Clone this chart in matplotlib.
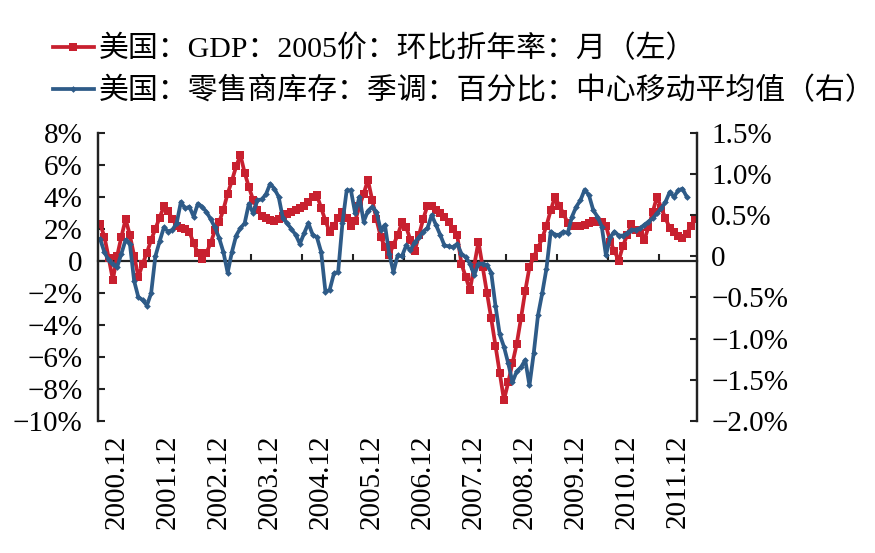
import matplotlib
matplotlib.use("Agg")
import matplotlib.pyplot as plt

plt.rcParams['font.family'] = ['Liberation Serif', 'Noto Sans CJK SC']
plt.rcParams['axes.unicode_minus'] = True

# monthly series, 2000.08 - 2012.04
gdp = [2.3, 1.5, 0.2, -1.2, 0.3, 1.5, 2.6, 1.6, 0.3, -1.0, -0.2, 0.5,
       1.3, 2.0, 2.7, 3.4, 3.1, 2.6, 2.2, 2.05, 2.0, 1.8, 1.1, 0.5,
       0.1, 0.5, 1.1, 1.9, 2.4, 3.2, 4.2, 5.0, 5.9, 6.6, 5.5, 4.6,
       3.8, 3.2, 2.8, 2.65, 2.55, 2.5, 2.6, 2.8, 2.9, 3.05, 3.15, 3.3,
       3.45, 3.7, 4.0, 4.1, 3.3, 2.5, 1.8, 2.2, 2.7, 3.05, 2.7, 2.2,
       2.5, 3.4, 4.2, 5.05, 3.8, 2.6, 1.5, 0.85, 0.35, 1.0, 1.6, 2.4,
       2.1, 1.3, 0.6, 1.6, 2.6, 3.45, 3.4, 3.2, 3.0, 2.75, 2.4, 2.0,
       1.6, -0.2, -1.0, -1.85, -0.3, 1.2, -0.4, -2.0, -3.6, -5.3, -7.0, -8.7,
       -7.6, -6.4, -5.2, -3.6, -1.9, -0.4, 0.25, 0.8, 1.4, 2.2, 3.15, 4.0,
       3.45, 2.95, 2.35, 2.2, 2.2, 2.2, 2.25, 2.35, 2.5, 2.45, 2.4, 2.2,
       1.2, 0.6, 0.0, 0.95, 1.6, 2.3, 1.9, 1.75, 1.3, 2.1, 3.05, 4.0,
       3.3, 2.65, 2.05, 1.8, 1.55, 1.4, 1.7, 2.2, 2.6]

inventory = [0.21, 0.05, -0.05, -0.1, -0.13, 0.03, 0.2, 0.15, -0.3, -0.5, -0.53, -0.6,
             -0.45, 0.0, 0.18, 0.35, 0.3, 0.32, 0.4, 0.66, 0.58, 0.6, 0.48, 0.64,
             0.6, 0.54, 0.45, 0.35, 0.22, 0.05, -0.2, 0.05, 0.25, 0.34, 0.4, 0.64,
             0.52, 0.68, 0.69, 0.75, 0.88, 0.82, 0.72, 0.46, 0.4, 0.33, 0.26, 0.15,
             0.28, 0.4, 0.26, 0.23, 0.05, -0.43, -0.41, -0.21, -0.19, 0.4, 0.8, 0.8,
             0.52, 0.72, 0.42, 0.55, 0.6, 0.54, 0.32, 0.38, 0.03, -0.19, 0.01, 0.0,
             0.13, 0.07, 0.17, 0.23, 0.3, 0.34, 0.5, 0.38, 0.26, 0.13, 0.12, 0.11,
             0.15, 0.03, -0.01, -0.09, -0.23, -0.09, -0.09, -0.11, -0.2, -0.6, -0.95, -1.1,
             -1.3, -1.53, -1.4, -1.35, -1.26, -1.57, -1.18, -0.72, -0.45, -0.15, 0.3, 0.26,
             0.26, 0.3, 0.28, 0.48, 0.6, 0.68, 0.81, 0.74, 0.56, 0.48, 0.36, 0.01,
             0.23, 0.3, 0.25, 0.25, 0.28, 0.32, 0.32, 0.34, 0.38, 0.42, 0.46, 0.52,
             0.58, 0.66, 0.78, 0.72, 0.8, 0.82, 0.72]

year_labels = ['2000.12', '2001.12', '2002.12', '2003.12', '2004.12', '2005.12',
               '2006.12', '2007.12', '2008.12', '2009.12', '2010.12', '2011.12']
left_ticks = [8, 6, 4, 2, 0, -2, -4, -6, -8, -10]
left_labels = ['8%', '6%', '4%', '2%', '0', '\u22122%', '\u22124%', '\u22126%', '\u22128%', '\u221210%']
right_ticks = [1.5, 1.0, 0.5, 0, -0.5, -1.0, -1.5, -2.0]
right_labels = ['1.5%', '1.0%', '0.5%', '0', '\u22120.5%', '\u22121.0%', '\u22121.5%', '\u22122.0%']

name_gdp = '美国：GDP：2005价：环比折年率：月（左）'
name_inv = '美国：零售商库存：季调：百分比：中心移动平均值（右）'

red = '#C8202F'
blue = '#2E5B88'
fs = 21

fig = plt.figure(figsize=(8.75, 5.53), dpi=100)
ax = fig.add_axes([0.112, 0.239, 0.685, 0.521])
ax2 = ax.twinx()

l1, = ax.plot(range(len(gdp)), gdp, color=red, lw=2.7, marker='s', ms=5.2,
              markeredgewidth=0, label=name_gdp)
l2, = ax2.plot(range(len(inventory)), inventory, color=blue, lw=2.7, marker='D',
               ms=3.4, markeredgewidth=0, label=name_inv)

ax.set_xlim(-0.5, 140.5)
ax.set_ylim(-10, 8)
ax2.set_ylim(-2.0, 1.5)

ax.set_yticks(left_ticks, left_labels, fontsize=fs)
ax2.set_yticks(right_ticks, right_labels, fontsize=fs)

# year labels under the plot, tick marks on the zero line
label_pos = [4 + 12 * k for k in range(len(year_labels))]
ax.set_xticks(label_pos, year_labels, rotation=90, fontsize=fs)
ax.tick_params(axis='x', length=0, pad=10)

zero_frac = 10 / 18
sec = ax.secondary_xaxis(zero_frac)
sec.set_xticks([11.5 + 12 * k for k in range(11)])
sec.xaxis.set_ticks_position('top')
sec.tick_params(axis='x', direction='out', length=5, width=1.5, labeltop=False,
                labelbottom=False, color='#222222')
for s in sec.spines.values():
    s.set_linewidth(1.6)
    s.set_color('#222222')

for a in (ax, ax2):
    a.spines['top'].set_visible(False)
    a.spines['bottom'].set_visible(False)
    a.spines['left'].set_linewidth(1.6)
    a.spines['right'].set_linewidth(1.6)
    a.spines['left'].set_color('#222222')
    a.spines['right'].set_color('#222222')
ax.tick_params(axis='y', direction='in', length=5, width=1.5, pad=11, color='#222222')
ax2.tick_params(axis='y', direction='in', length=5, width=1.5, pad=10, color='#222222')

fig.legend(handles=[l1, l2], loc='upper left', bbox_to_anchor=(0.06, 0.937),
           frameon=False, fontsize=21.5, handlelength=1.4, handletextpad=0.15,
           labelspacing=0.45, borderaxespad=0, borderpad=0)

fig.savefig('out.png', dpi=100)
